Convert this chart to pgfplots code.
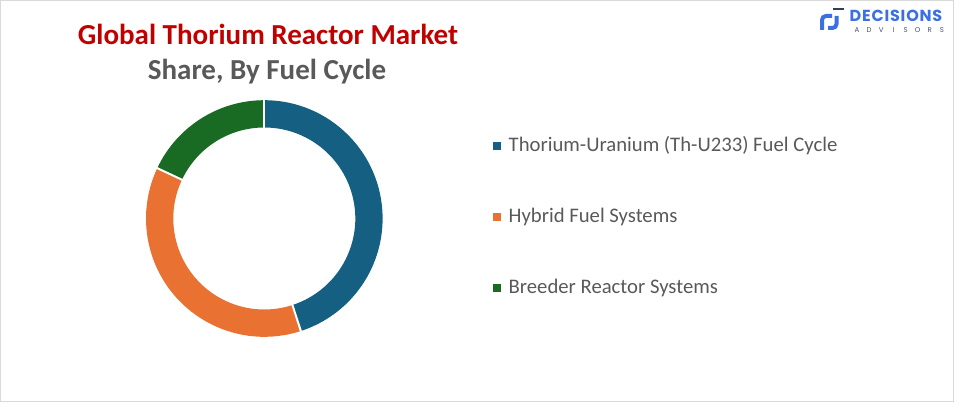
\documentclass[border=0pt]{standalone}
\usepackage{pgfplots}
\pgfplotsset{compat=1.18}
\usepackage{pgfplotstable}
\usepackage{fontspec}
\setmainfont{Carlito}
\newfontfamily\logofont{Poppins}
\definecolor{cBlue}{HTML}{156082}
\definecolor{cOrange}{HTML}{E97132}
\definecolor{cGreen}{HTML}{196B24}
\definecolor{titleRed}{HTML}{C00000}
\definecolor{txtGray}{HTML}{595959}
\definecolor{logoBlue}{HTML}{3B6FE3}
\definecolor{logoDark}{HTML}{2E3F5C}
\definecolor{logoSub}{HTML}{44508A}
\definecolor{frameGray}{HTML}{D9D9D9}

\pgfplotstableread{
segment share
ThU 45
Hybrid 37
Breeder 18
}\sharedata

\begin{document}
\begin{tikzpicture}
\pgfplotstablegetelem{0}{share}\of\sharedata \let\sA\pgfplotsretval
\pgfplotstablegetelem{1}{share}\of\sharedata \let\sB\pgfplotsretval
\pgfplotstablegetelem{2}{share}\of\sharedata \let\sC\pgfplotsretval
\pgfmathsetmacro\tot{\sA+\sB+\sC}
\pgfmathsetmacro\aO{90}
\pgfmathsetmacro\aA{90-360*\sA/\tot}
\pgfmathsetmacro\aB{\aA-360*\sB/\tot}
\pgfmathsetmacro\aC{\aB-360*\sC/\tot}
\def\Rout{118.3}\def\Rin{91}
\pgfmathsetmacro\dR{\Rout-\Rin}
\begin{axis}[x=1pt, y=1pt, xmin=0, xmax=954, ymin=0, ymax=402,
  scale only axis, hide axis, clip=false, at={(0,0)}, anchor=south west]
% frame
\draw[frameGray, line width=1pt] (0.5,0.5) rectangle (953.5,401.5);
% donut
\fill[cBlue] (264.3,183.5) ++(\aO:\Rout) arc[start angle=\aO, end angle=\aA, radius=\Rout] -- ++({\aA+180}:\dR) arc[start angle=\aA, end angle=\aO, radius=\Rin] -- cycle;
\fill[cOrange] (264.3,183.5) ++(\aA:\Rout) arc[start angle=\aA, end angle=\aB, radius=\Rout] -- ++({\aB+180}:\dR) arc[start angle=\aB, end angle=\aA, radius=\Rin] -- cycle;
\fill[cGreen] (264.3,183.5) ++(\aB:\Rout) arc[start angle=\aB, end angle=\aC, radius=\Rout] -- ++({\aC+180}:\dR) arc[start angle=\aC, end angle=\aB, radius=\Rin] -- cycle;
\draw[white, line width=2pt] (264.3,183.5) ++(\aO:88) -- ++(\aO:33);
\draw[white, line width=2pt] (264.3,183.5) ++(\aA:88) -- ++(\aA:33);
\draw[white, line width=2pt] (264.3,183.5) ++(\aB:88) -- ++(\aB:33);
% title
\node[anchor=base, text=titleRed, font=\fontsize{29}{33}\selectfont\bfseries, inner sep=0pt] at (268,357.5) {Global Thorium Reactor Market};
\node[anchor=base, text=txtGray, font=\fontsize{29}{33}\selectfont\bfseries, inner sep=0pt] at (267,322.5) {Share, By Fuel Cycle};
% legend
\fill[cBlue] (493.3,251.7) rectangle ++(8,8);
\fill[cOrange] (493.3,180.7) rectangle ++(8,8);
\fill[cGreen] (493.3,109.7) rectangle ++(8,8);
\node[anchor=base west, text=txtGray, font=\fontsize{20.7}{24}\selectfont, inner sep=0pt] at (508.5,250.3) {Thorium-Uranium (Th-U233) Fuel Cycle};
\node[anchor=base west, text=txtGray, font=\fontsize{20.7}{24}\selectfont, inner sep=0pt] at (508.5,179.7) {Hybrid Fuel Systems};
\node[anchor=base west, text=txtGray, font=\fontsize{20.7}{24}\selectfont, inner sep=0pt] at (508.5,108.7) {Breeder Reactor Systems};
\end{axis}
% logo (axis is placed at the origin with 1pt units, so these coordinates match)
\fill[logoDark] (833pt,391.7pt) rectangle (844pt,393.7pt);
\draw[logoBlue, line width=4pt] (832pt,386pt) -- (826pt,386pt) arc[start angle=90, end angle=180, radius=4pt] -- (822pt,372pt);
\draw[logoBlue, line width=4pt] (836.5pt,386pt) -- (836.5pt,378pt) arc[start angle=0, end angle=-90, radius=4pt] -- (828pt,374pt);
\node[anchor=base west, text=logoBlue, font=\logofont\bfseries\fontsize{16}{18}\selectfont\addfontfeature{LetterSpace=5}, inner sep=0pt] at (849.5pt,380.3pt) {DECISIONS};
\foreach \ch [count=\i from 0] in {A,D,V,I,S,O,R,S}{
  \node[anchor=base, text=logoSub, font=\logofont\fontsize{7}{8}\selectfont, inner sep=0pt] at ({857pt+\i*12.14pt},369pt) {\ch};
}
\end{tikzpicture}
\end{document}
